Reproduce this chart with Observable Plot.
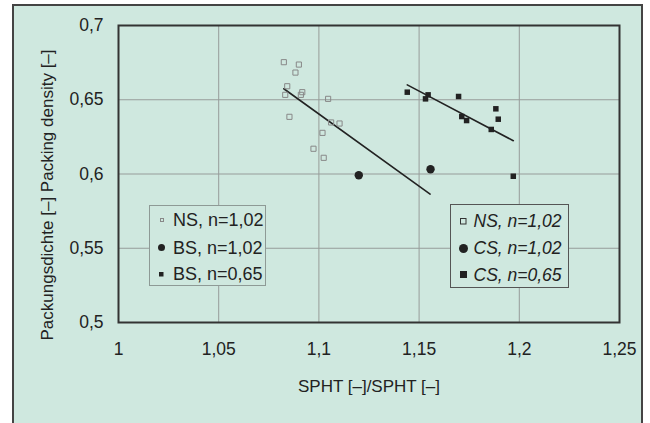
<!DOCTYPE html>
<html><head><meta charset="utf-8">
<script src="https://cdn.jsdelivr.net/npm/d3@7"></script>
<script src="https://cdn.jsdelivr.net/npm/@observablehq/plot@0.6"></script>
<style>
html,body{margin:0;padding:0;background:#fff;}
#wrap{position:relative;width:650px;height:423px;overflow:hidden;font-family:"Liberation Sans",Arial,sans-serif;color:#222;}
#panel{position:absolute;left:12px;top:4px;width:627px;height:440px;border:2px solid #444;background:#cfe8df;}
#chart{position:absolute;left:0;top:0;}
.legend{position:absolute;background:#cfe8df;box-sizing:border-box;}
.row{position:absolute;left:0;height:0;white-space:nowrap;}
.row svg{position:absolute;overflow:visible;}
.row span{position:absolute;top:-11px;line-height:22px;}
</style></head>
<body>
<div id="wrap"><div id="panel"></div><div id="chart"></div></div>
<script>
// Data
const xTicks = [1, 1.05, 1.1, 1.15, 1.2, 1.25];
const yTicks = [0.5, 0.55, 0.6, 0.65, 0.7];
const nsX = [1.0825, 1.0900, 1.0883, 1.0842, 1.0917, 1.0832, 1.0910, 1.1046, 1.0853, 1.1061, 1.1103, 1.1018, 1.0973, 1.1024];
const nsY = [0.6753, 0.6737, 0.6683, 0.6591, 0.6551, 0.6533, 0.6533, 0.6506, 0.6385, 0.6347, 0.6340, 0.6277, 0.6170, 0.6109];
const circX = [1.1199, 1.1557];
const circY = [0.5992, 0.6032];
const sqX = [1.1441, 1.1545, 1.1532, 1.1697, 1.1883, 1.1713, 1.1737, 1.1895, 1.1860, 1.1970];
const sqY = [0.6551, 0.6533, 0.6506, 0.6522, 0.6439, 0.6387, 0.6360, 0.6369, 0.6300, 0.5985];
const lineNSX = [1.0825, 1.1555];
const lineNSY = [0.6574, 0.5865];
const lineCSX = [1.1441, 1.1970];
const lineCSY = [0.6600, 0.6224];
const legendLeft = ["NS, n=1,02", "BS, n=1,02", "BS, n=0,65"];
const legendRight = ["NS, n=1,02", "CS, n=1,02", "CS, n=0,65"];
const xLabel = "SPHT [–]/SPHT [–]";
const yLabel = "Packungsdichte [–] Packing density [–]";

const zip = (xs, ys) => xs.map((x, i) => ({x, y: ys[i]}));
const fmt = d => String(d).replace(".", ",");
const font = '"Liberation Sans", Arial, sans-serif';

const chart = Plot.plot({
  width: 650, height: 423,
  marginLeft: 118, marginRight: 31, marginTop: 25, marginBottom: 101,
  style: {background: "transparent", fontFamily: font, fontSize: "17.5px", color: "#222", overflow: "visible"},
  x: {domain: [1, 1.25]},
  y: {domain: [0.5, 0.7]},
  marks: [
    Plot.gridX(xTicks.slice(1, -1), {stroke: "#979c9a", strokeOpacity: 1, strokeWidth: 1}),
    Plot.gridY(yTicks.slice(1, -1), {stroke: "#979c9a", strokeOpacity: 1, strokeWidth: 1}),
    Plot.axisX(xTicks, {tickSize: 0, tickPadding: 20, tickFormat: fmt, label: null, fontSize: 17.5, fill: "#222"}),
    Plot.axisY(yTicks, {tickSize: 0, tickPadding: 15, tickFormat: fmt, label: null, fontSize: 17.5, fill: "#222"}),
    Plot.line(zip(lineNSX, lineNSY), {x: "x", y: "y", stroke: "#222", strokeWidth: 1.6}),
    Plot.line(zip(lineCSX, lineCSY), {x: "x", y: "y", stroke: "#222", strokeWidth: 1.6}),
    Plot.dot(zip(nsX, nsY), {x: "x", y: "y", symbol: "square", r: 2.9, stroke: "#888", strokeWidth: 1, fill: "none"}),
    Plot.dot(zip(circX, circY), {x: "x", y: "y", symbol: "circle", r: 4.2, fill: "#222", stroke: "none"}),
    Plot.dot(zip(sqX, sqY), {x: "x", y: "y", symbol: "square", r: 3.1, fill: "#222", stroke: "none"}),
    Plot.frame({stroke: "#333", strokeWidth: 2}),
    Plot.text([yLabel], {text: d => d, frameAnchor: "left", textAnchor: "middle", lineAnchor: "middle", rotate: -90, dx: -71, dy: 21, fontSize: 17, fill: "#222"}),
    Plot.text([xLabel], {text: d => d, frameAnchor: "bottom", textAnchor: "middle", lineAnchor: "middle", dy: 64, fontSize: 17, fill: "#222"})
  ]
});
document.getElementById("chart").appendChild(chart);

// Legends
function marker(kind, size, color) {
  const s = size;
  if (kind === "hollow") return `<svg width="${s}" height="${s}" style="left:${-s/2}px;top:${-s/2}px"><rect x="0.5" y="0.5" width="${s-1}" height="${s-1}" fill="none" stroke="${color}" stroke-width="1"/></svg>`;
  if (kind === "circle") return `<svg width="${s}" height="${s}" style="left:${-s/2}px;top:${-s/2}px"><circle cx="${s/2}" cy="${s/2}" r="${s/2}" fill="${color}"/></svg>`;
  return `<svg width="${s}" height="${s}" style="left:${-s/2}px;top:${-s/2}px"><rect x="0" y="0" width="${s}" height="${s}" fill="${color}"/></svg>`;
}
function legend(labels, opts) {
  const box = document.createElement("div");
  box.className = "legend";
  Object.assign(box.style, {left: opts.left + "px", top: opts.top + "px", width: opts.width + "px", height: opts.height + "px", border: opts.border});
  const kinds = ["hollow", "circle", "filled"];
  labels.forEach((lab, i) => {
    const row = document.createElement("div");
    row.className = "row";
    row.style.top = opts.rows[i] + "px";
    row.innerHTML = `<div style="position:absolute;left:${opts.mx}px;top:0">${marker(kinds[i], opts.sizes[i], opts.colors[i])}</div>` +
      `<span style="left:${opts.tx}px;font-size:${opts.fs}px;font-style:${opts.italic ? "italic" : "normal"}">${lab}</span>`;
    box.appendChild(row);
  });
  document.getElementById("wrap").appendChild(box);
}
legend(legendLeft, {left: 149, top: 205, width: 117, height: 81, border: "1px solid #8e9a96",
  rows: [14, 41.5, 68], mx: 11.5, tx: 23, fs: 18, italic: false,
  sizes: [4, 7, 4.5], colors: ["#888", "#222", "#222"]});
legend(legendRight, {left: 450, top: 204, width: 119, height: 84, border: "1px solid #555",
  rows: [16, 43, 69.5], mx: 12.5, tx: 22.5, fs: 17.5, italic: true,
  sizes: [6.5, 9, 7], colors: ["#333", "#222", "#222"]});
</script>
</body></html>
